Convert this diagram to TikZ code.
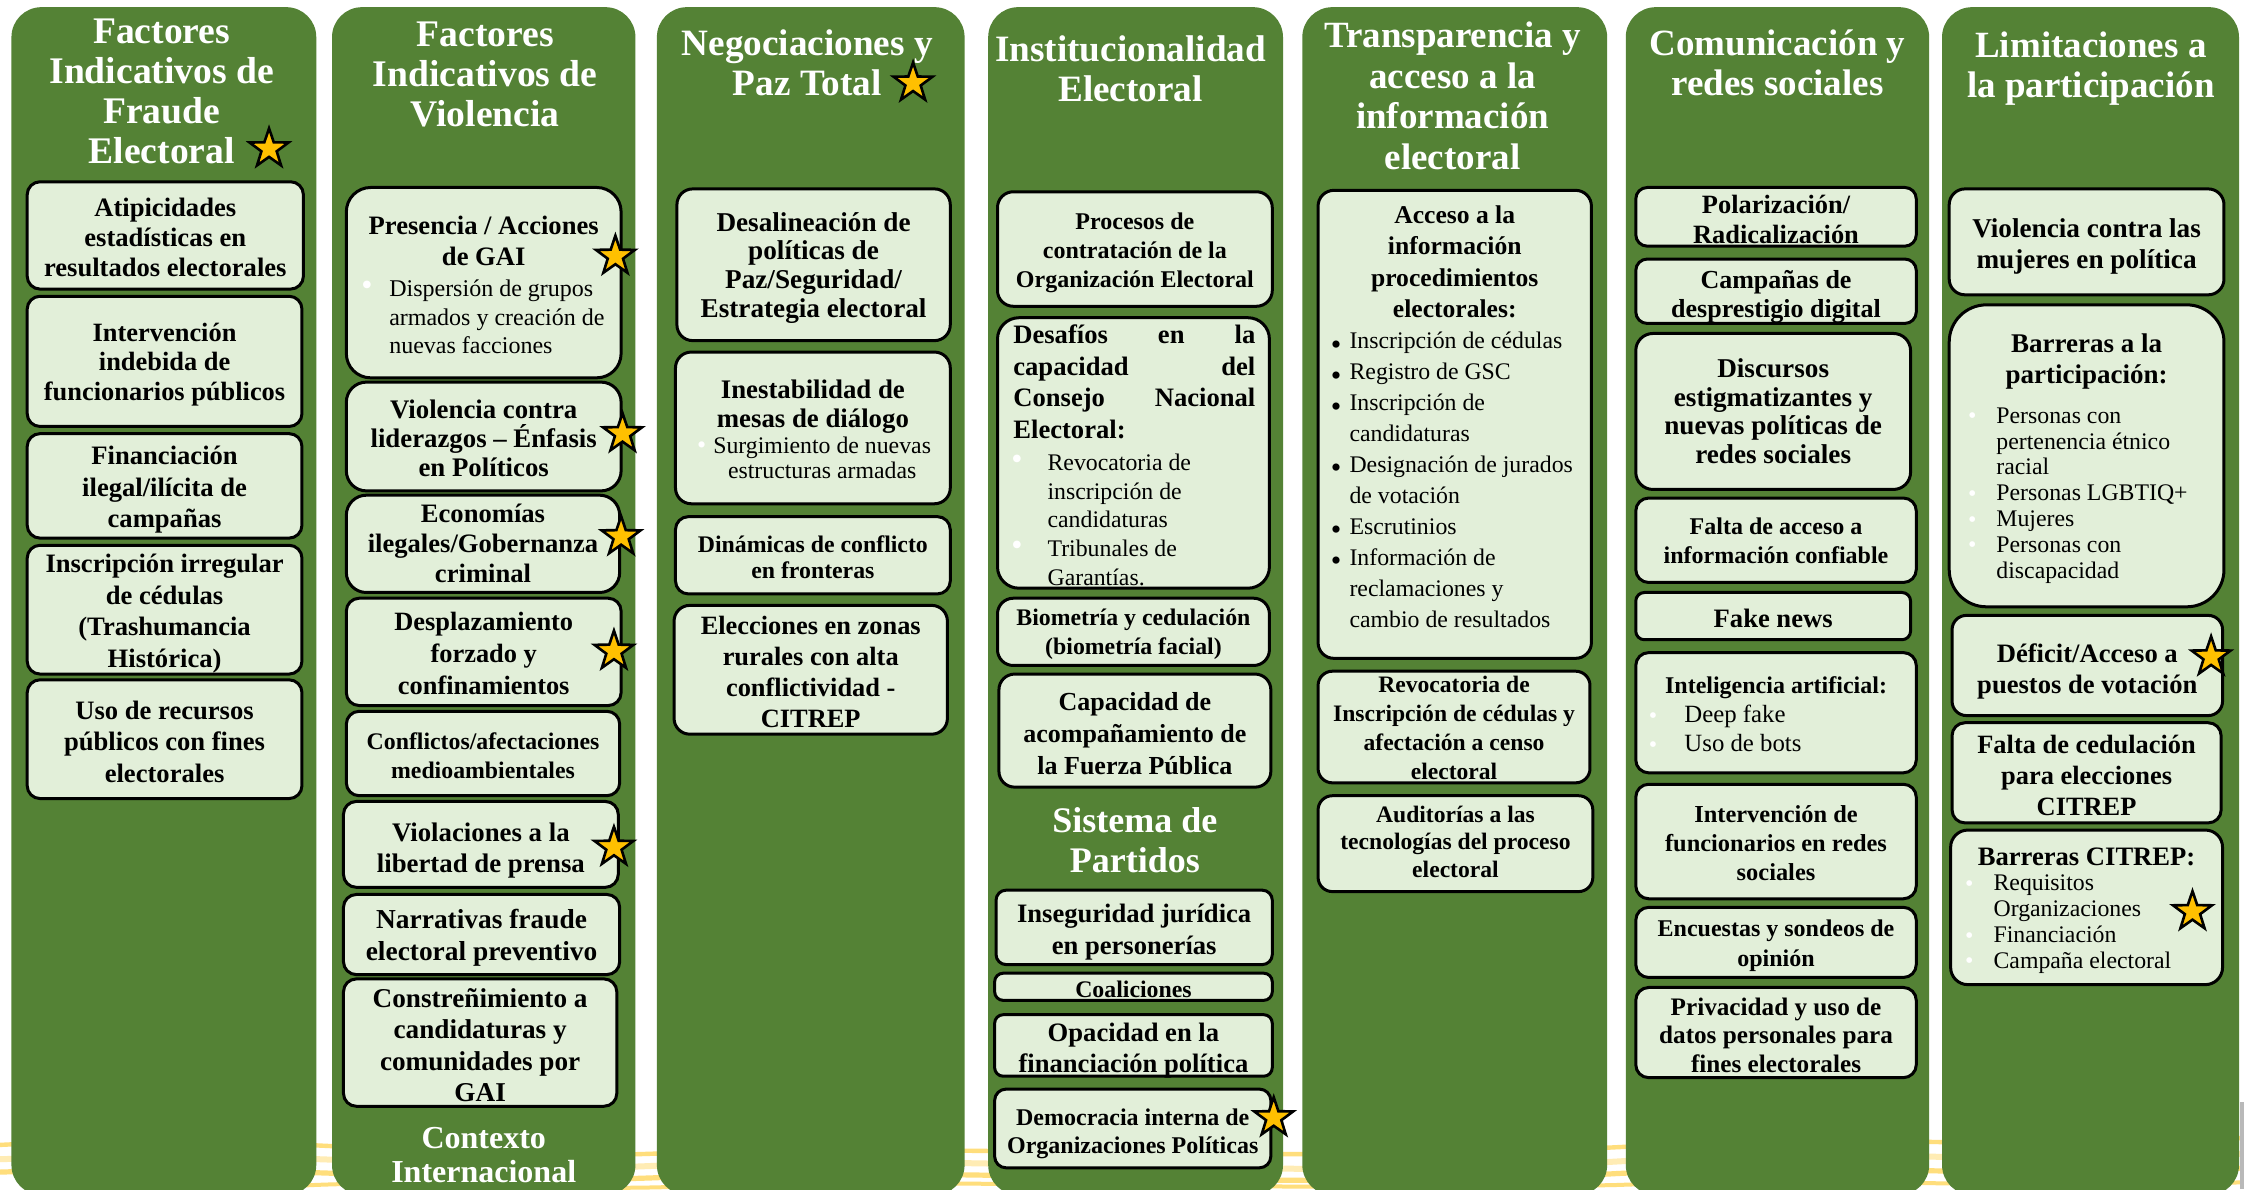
\documentclass[tikz,border=0pt]{standalone}
\usepackage{fontspec}
\setmainfont{Liberation Serif}
\usetikzlibrary{shapes.geometric}
\definecolor{colgreen}{HTML}{548235}
\definecolor{boxgreen}{HTML}{E2EFD9}
\definecolor{stargold}{HTML}{FFC000}
\definecolor{brushA}{HTML}{FFD966}
\definecolor{brushB}{HTML}{FFE9A8}
\newcommand{\F}[2]{\fontsize{#1}{#2}\selectfont}
\newcommand{\U}{0.7156}
\newcommand{\R}{\mdseries}
\newbox\tbxa
\newcommand{\zbox}[2]{\setbox\tbxa\hbox{\raise#1\hbox{\parbox[c]{\pw}{#2}}}\ht\tbxa=0pt\dp\tbxa=0pt\box\tbxa}
% list block: text left edge at #1 units from the parbox left
\newcommand{\lst}[1]{\leftskip=#1\dimexpr\U pt\relax\rightskip=0pt plus 1fil\parfillskip=0pt plus 1fil\relax}
% bullets placed #1 units left of the text: white large, white small, black
\newcommand{\wb}[1]{\leavevmode\llap{\raisebox{0.4pt}{\textcolor{white}{\F{16}{16}•}}\hspace{#1\dimexpr\U pt\relax}}}
\newcommand{\wbs}[1]{\leavevmode\llap{\raisebox{-0.3pt}{\textcolor{white}{\F{12}{12}•}}\hspace{#1\dimexpr\U pt\relax}}}
\newcommand{\kb}[1]{\leavevmode\llap{\raisebox{-2.7pt}{\textcolor{black}{\F{15}{15}•}}\hspace{#1\dimexpr\U pt\relax}}}
\newcommand{\jl}[1]{\leavevmode\hbox to\pw{\hspace{6.5pt}\hbox to 121pt{#1}\hss}}
\tikzset{
  x=0.7156pt,y=-0.7156pt,
  colbox/.style={fill=colgreen,draw=none,rounded corners=15pt,inner sep=0pt},
  cardbox/.style={fill=boxgreen,draw=black,line width=1.5pt,inner sep=0pt,outer sep=0pt,font=\bfseries},
  ttl/.style={text=white,font=\bfseries,align=center,inner sep=0pt},
  goldstar/.style={star,star points=5,star point ratio=2.55,fill=stargold,draw=black,line width=1.3pt,minimum size=20.5pt,inner sep=0pt},
  brush/.style={line cap=round,opacity=.85}
}
% \bx(name)[x0,y0,x1,y1|radius|text centre y]{font}{text}
\long\def\bx(#1)[#2,#3,#4,#5|#6|#7]#8#9{%
  \pgfmathsetlengthmacro\bw{(#4-#2)*\U}%
  \pgfmathsetlengthmacro\bh{(#5-#3)*\U}%
  \pgfmathsetlengthmacro\pw{(#4-#2-4)*\U}%
  \pgfmathsetlengthmacro\dy{((#3+#5)/2-#7)*\U-3.35}%
  \pgfmathsetlengthmacro\rr{#6*\U}%
  \node[cardbox,minimum width=\bw,minimum height=\bh,rounded corners=\rr] (#1) at ({(#2+#4)/2},{(#3+#5)/2})
    {\zbox{\dy}{#8\centering #9\par}};
}
\def\colm(#1)[#2,#3]{%
  \pgfmathsetlengthmacro\bw{(#3-#2)*\U}%
  \pgfmathsetlengthmacro\bh{830*\U}%
  \node[colbox,minimum width=\bw,minimum height=\bh] (#1) at ({(#2+#3)/2},420) {};
}
\begin{document}
\begin{tikzpicture}
\useasboundingbox (0,0) rectangle (1568,831);
\fill[white] (0,0) rectangle (1568,831);
% brush strokes behind the columns
\draw[brush,brushA,line width=2.2pt] (0,800) .. controls (200,790) and (300,812) .. (460,806) .. controls (700,798) and (900,815) .. (1160,800) .. controls (1300,792) and (1450,805) .. (1568,795);
\draw[brush,brushB,line width=3pt] (0,810) .. controls (250,802) and (320,822) .. (470,814) .. controls (700,806) and (890,826) .. (1140,811) .. controls (1300,802) and (1450,815) .. (1568,806);
\draw[brush,brushA,line width=2.6pt] (0,819) .. controls (220,812) and (320,830) .. (480,822) .. controls (700,815) and (900,833) .. (1130,820) .. controls (1300,812) and (1450,825) .. (1568,816);
\draw[brush,brushA,line width=2pt] (200,829) .. controls (300,823) and (380,833) .. (480,829) .. controls (700,823) and (900,833) .. (1130,828) .. controls (1300,822) and (1450,832) .. (1568,826);
\fill[gray!55] (1565.5,770) rectangle (1568,831);
% columns
\colm(c1)[8,221]
\colm(c2)[232,444]
\colm(c3)[459,674]
\colm(c4)[690.5,896.5]
\colm(c5)[910,1123]
\colm(c6)[1136,1348]
\colm(c7)[1357,1564.5]
% titles
\node[ttl,font=\bfseries\F{18.8}{20}] (t1) at (113,64) {Factores\\Indicativos de\\Fraude\\Electoral};
\node[ttl,font=\bfseries\F{18.8}{20}] (t2) at (339,52) {Factores\\Indicativos de\\Violencia};
\node[ttl,font=\bfseries\F{18.6}{20}] (t3) at (564,44) {Negociaciones y\\Paz Total};
\node[ttl,font=\bfseries\F{18.6}{19.6}] (t4) at (790,48) {Institucionalidad\\Electoral};
\node[ttl,font=\bfseries\F{18.5}{20.2}] (t5) at (1015,67) {Transparencia y\\acceso a la\\información\\electoral};
\node[ttl,font=\bfseries\F{18.5}{20}] (t6) at (1242,44) {Comunicación y\\redes sociales};
\node[ttl,font=\bfseries\F{18.5}{20}] (t7) at (1461,48) {Limitaciones a\\la participación};
\node[ttl,font=\bfseries\F{18}{20}] (t8) at (793,587) {Sistema de\\Partidos};
\node[ttl,font=\bfseries\F{16}{17}] (t9) at (338,807) {Contexto\\Internacional};
% column 1
\bx(a1)[19,127,212,202|9|164.5]{\F{13.3}{15}}{Atipicidades\\estadísticas en\\resultados electorales}
\bx(a2)[19,207,211,298|9|253.5]{\F{13.2}{14.7}}{Intervención\\indebida de\\funcionarios públicos}
\bx(a3)[19,303,211,376|9|341]{\F{13.3}{15.7}}{Financiación\\ilegal/ilícita de\\campañas}
\bx(a4)[19,381,211,471|9|427.5]{\F{13.3}{15.7}}{Inscripción irregular\\de cédulas\\(Trashumancia\\Histórica)}
\bx(a5)[19,475,211,558|9|517]{\F{13.3}{15.7}}{Uso de recursos\\públicos con fines\\electorales}
% column 2
\bx(b1)[242,131,434,264|17|198]{\F{13.3}{15.2}}{Presencia / Acciones\\de GAI\par\vspace{1.4pt}\F{12}{14.3}\R\lst{28}\wb{11.6}Dispersión de grupos\\armados y creación de\\nuevas facciones}
\bx(b2)[242,267,434,343|14|305]{\F{13.4}{14.6}}{Violencia contra\\liderazgos – Énfasis\\en Políticos}
\bx(b3)[242,346,433,414|14|378.5]{\F{13.3}{14.8}}{Economías\\ilegales/Gobernanza\\criminal}
\bx(b4)[242,418,434,493|9|455.5]{\F{13.2}{16}}{Desplazamiento\\forzado y\\confinamientos}
\bx(b5)[242,497,433,556|9|527]{\F{11.9}{14.3}}{Conflictos/afectaciones\\medioambientales}
\bx(b6)[240,560,432,620|9|593]{\F{13.4}{15.7}}{Violaciones a la\\libertad de prensa}
\bx(b7)[240,625,433,681|9|654]{\F{13.7}{15.7}}{Narrativas fraude\\electoral preventivo}
\bx(b8)[240,684,431,773|9|729]{\F{13.6}{15.7}}{Constreñimiento a\\candidaturas y\\comunidades por\\GAI}
% column 3
\bx(d1)[473,132,664,238|11|186]{\F{13.6}{14.4}}{Desalineación de\\políticas de\\Paz/Seguridad/\\Estrategia electoral}
\bx(d2)[472,246,664,352|11|299]{\F{13.4}{14.4}}{Inestabilidad de\\mesas de diálogo\par\F{11.9}{12.9}\R\leftskip=9.3pt plus 1fil\leavevmode\llap{\raisebox{-0.3pt}{\textcolor{white}{\F{13}{13}•}}\hspace{3.5pt}}Surgimiento de nuevas\\estructuras armadas}
\bx(d3)[472,361,664,415|9|388]{\F{11.9}{12.9}}{Dinámicas de conflicto\\en fronteras}
\bx(d4)[471,423,662,513|11|468]{\F{13.2}{15.5}}{Elecciones en zonas\\rurales con alta\\conflictividad -\\CITREP}
% column 4
\bx(e1)[697,134,889,214|11|175.5]{\F{12}{14.7}}{Procesos de\\contratación de la\\Organización Electoral}
\bx(e2)[697,222,887,411|15|317]{\F{13.3}{15.7}}{\jl{Desafíos\hfil en\hfil la}\\\jl{capacidad\hfil del}\\\jl{Consejo\hfil Nacional}\\\jl{Electoral:\hfil}\par\vspace{2pt}\F{11.9}{14.3}\R\lst{33}\wb{17.4}Revocatoria de\\inscripción de\\candidaturas\\\wb{17.4}Tribunales de\\Garantías.}
\bx(e3)[697,418,887,465|11|442]{\F{11.9}{14.3}}{Biometría y cedulación\\(biometría facial)}
\bx(e4)[698,471,888,550|11|511.5]{\F{13}{16}}{Capacidad de\\acompañamiento de\\la Fuerza Pública}
\bx(e5)[696,622,889,674|7|650]{\F{13.3}{15.7}}{Inseguridad jurídica\\en personerías}
\bx(e6)[695,680,889,699|6|690]{\F{11.9}{13}}{Coaliciones}
\bx(e7)[695,709,889,752|6|733]{\F{13.3}{15.7}}{Opacidad en la\\financiación política}
\bx(e8)[695,761,888,816|8|791]{\F{12}{14.3}}{Democracia interna de\\Organizaciones Políticas}
% column 5
\bx(f1)[921,133,1112,460|11|290]{\F{12.8}{15.7}}{Acceso a la\\información\\procedimientos\\electorales:\par\F{11.9}{15.5}\R\lst{20}\kb{5.7}Inscripción de cédulas\\\kb{5.7}Registro de GSC\\\kb{5.7}Inscripción de\\candidaturas\\\kb{5.7}Designación de jurados\\de votación\\\kb{5.7}Escrutinios\\\kb{5.7}Información de\\reclamaciones y\\cambio de resultados}
\bx(f2)[921,469,1111,547|10|507.5]{\F{11.8}{14.5}}{Revocatoria de\\Inscripción de cédulas y\\afectación a censo\\electoral}
\bx(f3)[921,556,1113,623|10|587]{\F{11.8}{13.6}}{Auditorías a las\\tecnologías del proceso\\electoral}
% column 6
\bx(g1)[1143,131,1339,172|8|152.5]{\F{13.2}{15}}{Polarización/\\Radicalización}
\bx(g2)[1143,181,1339,226|8|206]{\F{13}{14.4}}{Campañas de\\desprestigio digital}
\bx(g3)[1143,233,1335,342|12|286]{\F{13.6}{14.3}}{Discursos\\estigmatizantes y\\nuevas políticas de\\redes sociales}
\bx(g4)[1143,348,1339,407|9|376.5]{\F{12}{14.3}}{Falta de acceso a\\información confiable}
\bx(g5)[1143,414,1335,447|6|431]{\F{13.3}{15}}{Fake news}
\bx(g6)[1143,456,1339,540|9|498]{\F{12}{14.3}}{Inteligencia artificial:\par\F{12.4}{14.6}\R\lst{32}\wbs{19}Deep fake\\\wbs{19}Uso de bots}
\bx(g7)[1143,548,1339,628|9|588]{\F{12.2}{14.3}}{Intervención de\\funcionarios en redes\\sociales}
\bx(g8)[1143,634,1339,683|9|659.5]{\F{12}{15}}{Encuestas y sondeos de\\opinión}
\bx(g9)[1143,690,1339,753|9|722]{\F{12.6}{14.3}}{Privacidad y uso de\\datos personales para\\fines electorales}
% column 7
\bx(h1)[1362,132,1554,206|11|171]{\F{13.6}{15.7}}{Violencia contra las\\mujeres en política}
\bx(h2)[1362,213,1554,424|26|319]{\F{13.5}{15.7}}{Barreras a la\\participación:\par\vspace{7pt}\F{11.9}{12.9}\R\lst{31}\wbs{14}Personas con\\pertenencia étnico\\racial\\\wbs{14}Personas LGBTIQ+\\\wbs{14}Mujeres\\\wbs{14}Personas con\\discapacidad}
\bx(h3)[1364,430,1553,500|10|468]{\F{13.3}{15.7}}{Déficit/Acceso a\\puestos de votación}
\bx(h4)[1364,505,1552,575|9|540.5]{\F{13.2}{15.5}}{Falta de cedulación\\para elecciones\\CITREP}
\bx(h5)[1363,580,1553,688|12|635]{\F{13.3}{14.5}}{Barreras CITREP:\par\F{11.9}{12.9}\R\lst{28}\wbs{14}Requisitos\\Organizaciones\\\wbs{14}Financiación\\\wbs{14}Campaña electoral}
% stars
\node[goldstar] (s1) at (188,104) {};
\node[goldstar] (s2) at (430,179) {};
\node[goldstar] (s3) at (435,303) {};
\node[goldstar] (s4) at (434,375) {};
\node[goldstar] (s5) at (429,455) {};
\node[goldstar] (s6) at (429,592) {};
\node[goldstar] (s7) at (638,58) {};
\node[goldstar] (s8) at (890,781) {};
\node[goldstar] (s9) at (1545,459) {};
\node[goldstar] (s10) at (1532,637) {};
\end{tikzpicture}
\end{document}
